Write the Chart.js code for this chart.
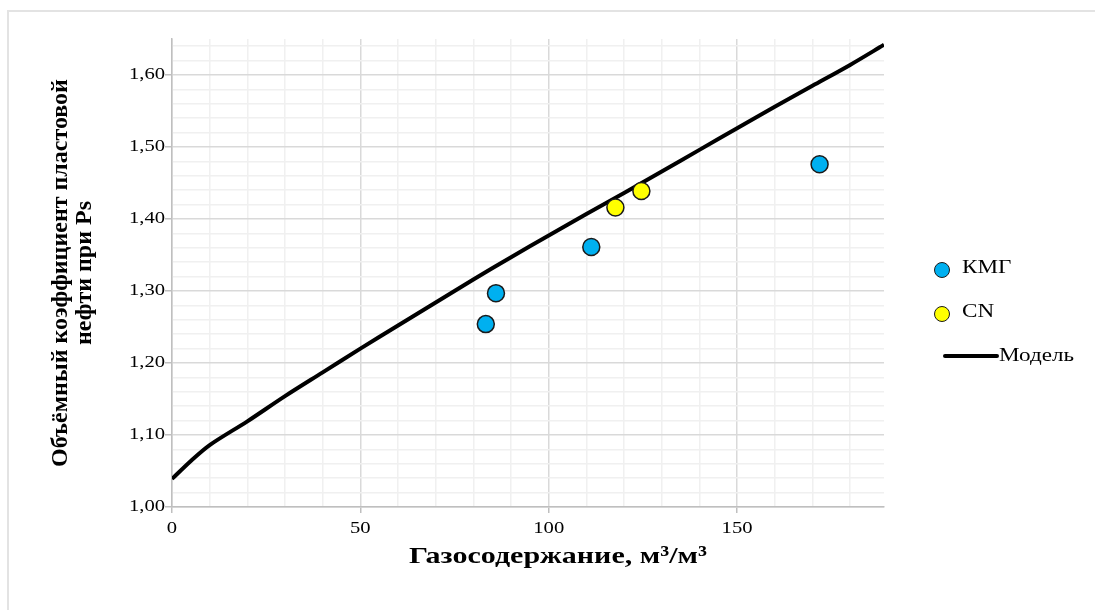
<!DOCTYPE html>
<html>
<head>
<meta charset="utf-8">
<script src="https://cdn.jsdelivr.net/npm/chart.js@4.4.0/dist/chart.umd.min.js"></script>
<style>
  body { margin: 0; background: #fff; }
  #wrap { position: relative; width: 1095px; height: 610px; font-family: "Liberation Serif", "Times New Roman", serif; }
  #frame { position: absolute; left: 7px; top: 10px; right: -10px; bottom: -10px; border-left: 2px solid #e3e3e3; border-top: 2px solid #e3e3e3; }
  #legend { position: absolute; left: 925px; top: 258px; font-size: 18.5px; color: #000; }
  .item { position: relative; height: 44px; }
  .dot { position: absolute; left: 9px; top: 4px; width: 14px; height: 14px; border-radius: 50%; border: 1.5px solid #1a1a1a; }
  .ln { position: absolute; left: 18px; top: 8px; width: 56px; height: 4px; background: #000; border-radius: 2px; }
  .lbl { position: absolute; top: -1px; white-space: nowrap; transform: scaleX(1.25); transform-origin: left center; }
  #xtitle { position: absolute; left: 558px; top: 541px; font-size: 24px; font-weight: bold; line-height: 29px; white-space: nowrap; transform: translateX(-50%) scaleX(1.25); }
</style>
</head>
<body>
<div id="wrap">
  <div id="frame"></div>
  <canvas id="chart" width="1095" height="610"></canvas>
  <div id="legend"></div>
  <div id="xtitle"></div>
</div>
<script>
// КМГ measurements
const kmgX = [83.3, 86.0, 111.3, 171.9];
const kmgY = [1.254, 1.297, 1.361, 1.476];
// CN measurements
const cnX = [117.7, 124.6];
const cnY = [1.416, 1.439];
// model curve
const modelX = [0, 5, 10, 20, 30, 40, 50, 60, 70, 80, 90, 100, 110, 120, 130, 140, 150, 160, 170, 180, 189];
const modelY = [1.039, 1.064, 1.086, 1.119, 1.154, 1.187, 1.220, 1.252, 1.284, 1.316, 1.347, 1.377, 1.407, 1.436, 1.466, 1.496, 1.526, 1.556, 1.585, 1.614, 1.642];

const seriesNames = ['КМГ', 'CN', 'Модель'];
const xTitle = 'Газосодержание, м³/м³';
const yTitle = ['Объёмный коэффициент пластовой', 'нефти при Ps'];

const toPts = (xs, ys) => xs.map((x, i) => ({ x: x, y: ys[i] }));

// the original text is drawn a bit wider than plain Times, stretch horizontal text
const STRETCH = 1.25;
const rawFillText = CanvasRenderingContext2D.prototype.fillText;
CanvasRenderingContext2D.prototype.fillText = function (text, x, y, maxWidth) {
  const t = this.getTransform();
  if (t.b !== 0 || t.c !== 0) {
    return rawFillText.call(this, text, x, y, maxWidth);
  }
  this.save();
  this.translate(x, y);
  this.scale(STRETCH, 1);
  if (maxWidth === undefined) rawFillText.call(this, text, 0, 0);
  else rawFillText.call(this, text, 0, 0, maxWidth / STRETCH);
  this.restore();
};

const serif = "'Liberation Serif', 'Times New Roman', serif";
const majorGrid = '#d9d9d9';
const minorGrid = '#f0f0f0';

const chart = new Chart(document.getElementById('chart'), {
  type: 'scatter',
  data: {
    datasets: [
      {
        label: seriesNames[0],
        data: toPts(kmgX, kmgY),
        backgroundColor: '#00b0f0',
        borderColor: '#1a1a1a',
        borderWidth: 1.5,
        pointRadius: 8.5,
        order: 1
      },
      {
        label: seriesNames[1],
        data: toPts(cnX, cnY),
        backgroundColor: '#ffff00',
        borderColor: '#1a1a1a',
        borderWidth: 1.5,
        pointRadius: 8.5,
        order: 1
      },
      {
        label: seriesNames[2],
        data: toPts(modelX, modelY),
        showLine: true,
        borderColor: '#000',
        backgroundColor: '#000',
        borderWidth: 4,
        pointRadius: 0,
        tension: 0.3,
        order: 2
      }
    ]
  },
  options: {
    responsive: false,
    animation: false,
    layout: { padding: { left: 0, top: 39, right: 211, bottom: 0 } },
    plugins: { legend: { display: false }, tooltip: { enabled: false } },
    scales: {
      x: {
        type: 'linear',
        min: 0,
        max: 189,
        afterFit: s => { s.height = 103; },
        ticks: {
          stepSize: 10,
          includeBounds: false,
          autoSkip: false,
          maxRotation: 0,
          padding: 6,
          color: '#000',
          font: { family: serif, size: 16.5 },
          callback: v => (Math.round(v) % 50 === 0 ? String(Math.round(v)) : '')
        },
        grid: {
          color: c => (Math.round(c.tick.value) % 50 === 0 ? majorGrid : minorGrid),
          tickColor: c => (Math.round(c.tick.value) % 50 === 0 ? '#bfbfbf' : 'rgba(0,0,0,0)'),
          tickLength: 6,
          lineWidth: 1.5
        },
        border: { color: '#bfbfbf', width: 1.5 },
        title: { display: false }
      },
      y: {
        min: 1.0,
        max: 1.65,
        afterFit: s => { s.width = 172; },
        ticks: {
          stepSize: 0.02,
          includeBounds: false,
          autoSkip: false,
          padding: 0,
          color: '#000',
          font: { family: serif, size: 16.5 },
          callback: v => {
            const k = Math.round(v * 100);
            return k % 10 === 0 ? (k / 100).toFixed(2).replace('.', ',') : '';
          }
        },
        grid: {
          color: c => (Math.round(c.tick.value * 100) % 10 === 0 ? majorGrid : minorGrid),
          tickColor: c => (Math.round(c.tick.value * 100) % 10 === 0 ? '#bfbfbf' : 'rgba(0,0,0,0)'),
          tickLength: 7,
          lineWidth: 1.5
        },
        border: { color: '#bfbfbf', width: 1.5 },
        title: {
          display: true,
          text: yTitle,
          color: '#000',
          font: { family: serif, size: 24, weight: 'bold', lineHeight: 1.0 },
          padding: { top: 49, bottom: 0 }
        }
      }
    }
  }
});

// x axis title, placed as in the original (a bit right of the plot centre)
document.getElementById('xtitle').textContent = xTitle;

// legend built from the datasets
const legend = document.getElementById('legend');
chart.data.datasets.forEach(ds => {
  const item = document.createElement('div');
  item.className = 'item';
  const lbl = document.createElement('span');
  lbl.className = 'lbl';
  lbl.textContent = ds.label;
  if (ds.showLine) {
    const ln = document.createElement('div');
    ln.className = 'ln';
    item.appendChild(ln);
    lbl.style.left = '74px';
  } else {
    const dot = document.createElement('div');
    dot.className = 'dot';
    dot.style.background = ds.backgroundColor;
    item.appendChild(dot);
    lbl.style.left = '37px';
  }
  item.appendChild(lbl);
  legend.appendChild(item);
});
</script>
</body>
</html>
